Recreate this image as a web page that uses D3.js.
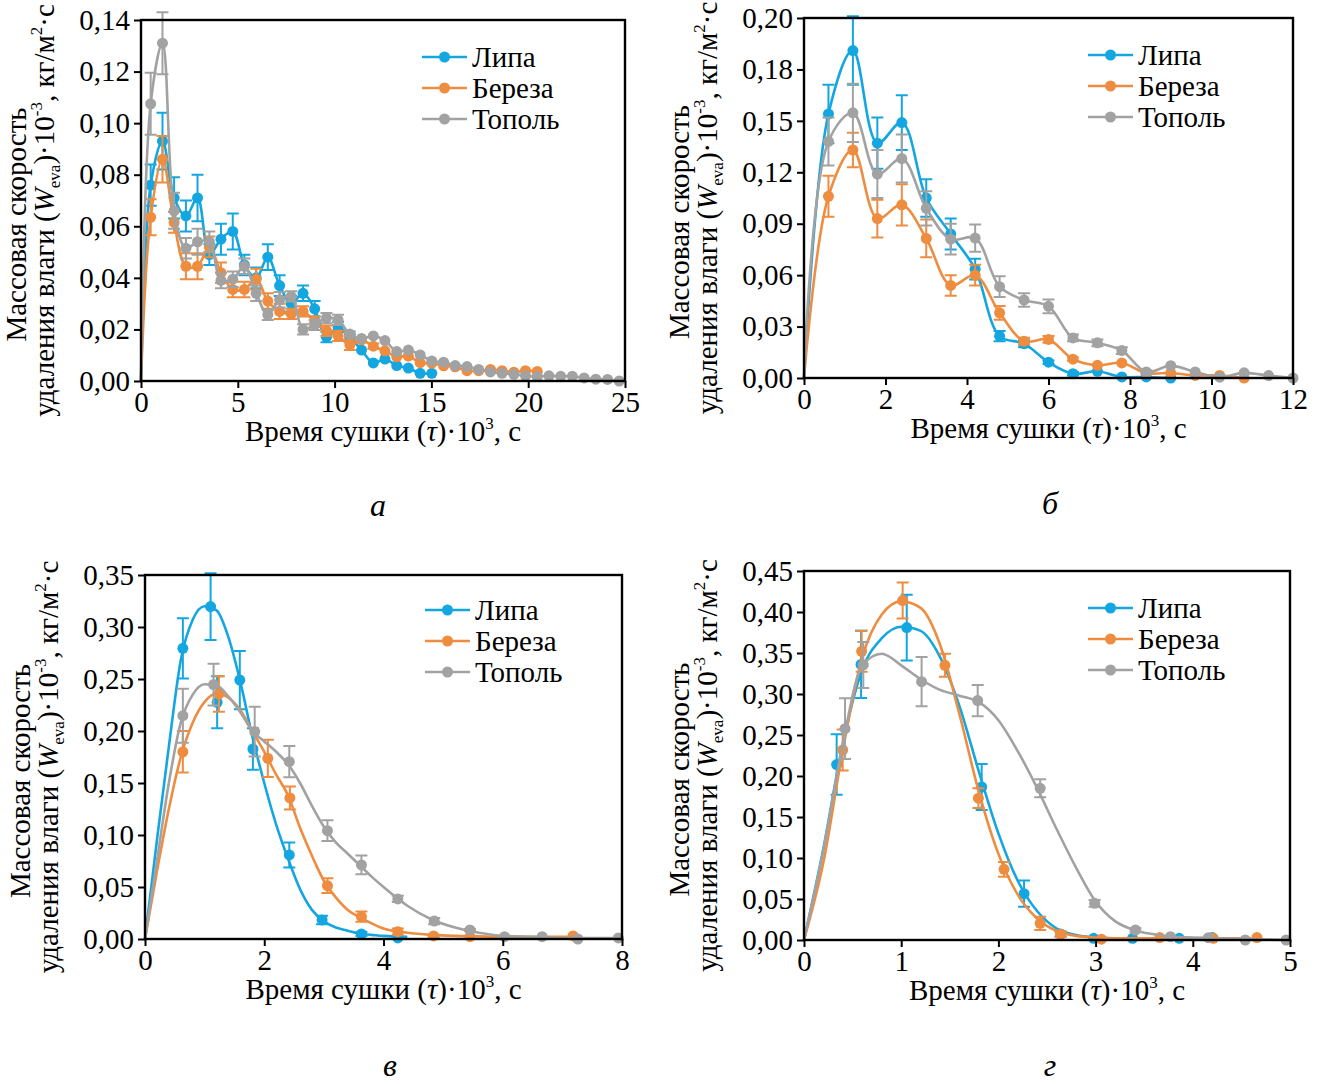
<!DOCTYPE html>
<html><head><meta charset="utf-8">
<script src="https://cdn.jsdelivr.net/npm/d3@7"></script>
<style>
body{margin:0;background:#fff}
svg{display:block}
svg text{font-family:"Liberation Serif","LiberationSerif","Times New Roman",Times,Tinos,"DejaVu Serif","Noto Serif",serif;fill:#000}
</style>
</head><body>
<svg id="chart" width="1322" height="1085"></svg>
<script>
// ---------- common ----------
const seriesNames = ["Липа", "Береза", "Тополь"];
const seriesColors = ["#14a6e0", "#ee8c40", "#a2a2a2"];

// ---------- panel а ----------
const aTime = [0,0.50,1.11,1.71,2.32,2.92,3.53,4.13,4.74,5.34,5.95,6.55,7.16,7.76,8.37,8.97,9.58,10.18,10.79,11.39,12.00,12.60,13.21,13.81,14.42,15.02,15.63,16.23,16.84,17.44,18.05,18.65,19.26,19.86,20.47,21.07,21.68,22.28,22.89,23.49,24.10,24.70];
const aLipa = [0,0.076,0.093,0.071,0.064,0.071,0.049,0.055,0.058,0.045,0.040,0.048,0.037,0.030,0.034,0.028,0.017,0.021,0.017,0.012,0.007,0.0085,0.006,0.005,0.003,0.003];
const aLipaErr = [0,0.008,0.011,0.008,0.006,0.009,0.004,0.006,0.007,0.004,0.004,0.005,0.004,0.003,0.003,0.003,0.002,0.002,0.001,0,0,0,0,0,0,0];
const aBereza = [0,0.0635,0.086,0.0615,0.0445,0.0445,0.052,0.042,0.0355,0.0355,0.0395,0.031,0.027,0.026,0.027,0.023,0.0195,0.0175,0.014,0.016,0.0135,0.0117,0.0094,0.0097,0.0071,0.0069,0.0059,0.0055,0.004,0.004,0.0045,0.004,0.0034,0.004,0.0037];
const aBerezaErr = [0,0.007,0.009,0.004,0.005,0.005,0.004,0.004,0.003,0.003,0.004,0.003,0.003,0.002,0.002,0.002,0.002,0.002,0.002,0.001,0.001,0,0,0,0,0,0,0,0,0,0,0,0,0,0];
const aTopol = [0,0.1075,0.131,0.066,0.0515,0.054,0.054,0.039,0.0395,0.0445,0.034,0.0257,0.0315,0.0328,0.020,0.0218,0.0244,0.0237,0.0182,0.0165,0.0175,0.0157,0.0114,0.012,0.0101,0.0078,0.0073,0.006,0.0056,0.0045,0.0035,0.003,0.0026,0.002,0.0017,0.002,0.0018,0.0018,0.0012,0.0007,0.0006,0.0];
const aTopolErr = [0,0.012,0.012,0.007,0.004,0.005,0.004,0.003,0.003,0.003,0.003,0.002,0.003,0.002,0.002,0.002,0.002,0.002,0.001,0,0,0,0,0,0,0,0,0,0,0,0,0,0,0,0,0,0,0,0,0,0,0];
const aXTicks = [0,5,10,15,20,25];
const aYTicks = [0,0.02,0.04,0.06,0.08,0.10,0.12,0.14];
const aYLabels = ["0,00","0,02","0,04","0,06","0,08","0,10","0,12","0,14"];

// ---------- panel б ----------
const bTime = [0,0.6,1.2,1.8,2.4,3.0,3.6,4.2,4.8,5.4,6.0,6.6,7.2,7.8,8.4,9.0,9.6,10.2,10.8,11.4,12.0];
const bLipa = [0,0.154,0.191,0.137,0.149,0.105,0.084,0.0635,0.0244,0.020,0.0092,0.0025,0.0039,0.0006,0.0006,0.0];
const bLipaErr = [0,0.017,0.02,0.015,0.016,0.011,0.009,0.006,0.003,0.002,0.001,0.001,0,0,0,0];
const bBereza = [0,0.106,0.133,0.093,0.101,0.0814,0.054,0.060,0.038,0.0215,0.0225,0.011,0.0074,0.0088,0.0029,0.0029,0.0015,0.0015,0.0];
const bBerezaErr = [0,0.012,0.01,0.011,0.012,0.011,0.006,0.006,0.004,0.002,0.002,0.001,0,0,0,0,0,0,0];
const bTopol = [0,0.138,0.1547,0.119,0.128,0.099,0.081,0.0816,0.0533,0.0455,0.0418,0.0234,0.0205,0.016,0.0035,0.0072,0.0035,0.0005,0.003,0.0014,0.0];
const bTopolErr = [0,0.014,0.017,0.014,0.014,0.01,0.009,0.008,0.006,0.004,0.004,0.002,0.002,0.002,0.001,0,0,0,0,0,0];
const bXTicks = [0,2,4,6,8,10,12];
const bYTicks = [0,0.03,0.06,0.09,0.12,0.15,0.18,0.21];
const bYLabels = ["0,00","0,03","0,06","0,09","0,12","0,15","0,18","0,20"];

// ---------- panel в ----------
const cLipaT = [0.635,1.10,1.21,1.59,1.81,2.42,2.97,3.63,4.24];
const cLipa = [0.2795,0.3196,0.2276,0.249,0.1827,0.0808,0.0183,0.0048,0.001];
const cLipaErr = [0.029,0.032,0.025,0.028,0.02,0.012,0.004,0.002,0];
const cBerezaT = [0.635,1.24,2.06,2.43,3.06,3.63,4.24,4.84,5.45,7.18];
const cBereza = [0.180,0.2356,0.1737,0.1356,0.0513,0.0215,0.007,0.003,0.0022,0.003];
const cBerezaErr = [0.02,0.017,0.018,0.011,0.007,0.005,0.003,0.001,0,0];
const cTopolT = [0.635,1.15,1.84,2.42,3.06,3.63,4.24,4.85,5.45,6.03,6.66,7.26,7.94];
const cTopol = [0.2147,0.2446,0.1994,0.1705,0.1042,0.0712,0.0385,0.0173,0.0087,0.0022,0.0022,0.0,0.001];
const cTopolErr = [0.026,0.02,0.024,0.015,0.01,0.009,0.003,0.003,0.001,0,0,0,0];
const cFitT = [0,0.2,0.4,0.6,0.8,1.0,1.2,1.4,1.6,1.8,2.0,2.2,2.4,2.6,2.8,3.0,3.2,3.4,3.6,3.8,4.0,4.4,4.8,5.2,5.6,6.0,6.5,7.0,7.2,7.5,8.0];
const cFitLipa = [0,0.095,0.185,0.268,0.307,0.32,0.316,0.29,0.247,0.195,0.15,0.11,0.077,0.048,0.028,0.017,0.011,0.008,0.005,0.004,0.003,0.002,null,null,null,null,null,null,null,null,null];
const cFitBereza = [0,0.065,0.125,0.175,0.208,0.228,0.236,0.232,0.22,0.2,0.18,0.158,0.138,0.107,0.08,0.056,0.04,0.028,0.021,0.015,0.01,0.006,0.004,0.003,0.0025,0.002,0.002,0.002,0.002,null,null];
const cFitTopol = [0,0.075,0.15,0.208,0.235,0.245,0.244,0.233,0.218,0.2,0.19,0.18,0.168,0.15,0.128,0.108,0.093,0.082,0.071,0.06,0.05,0.032,0.019,0.011,0.006,0.003,0.002,0.001,0.001,0.001,0.001];
const cXTicks = [0,2,4,6,8];
const cYTicks = [0,0.05,0.10,0.15,0.20,0.25,0.30,0.35];
const cYLabels = ["0,00","0,05","0,10","0,15","0,20","0,25","0,30","0,35"];

// ---------- panel г ----------
const dLipaT = [0.336,0.587,1.057,1.828,2.264,2.64,2.98,3.38,3.86,4.2];
const dLipa = [0.214,0.336,0.381,0.1866,0.0565,0.0073,0.002,0.002,0.002,0.003];
const dLipaErr = [0.037,0.041,0.04,0.028,0.016,0.003,0,0,0,0];
const dBerezaT = [0.398,0.593,1.015,1.45,1.794,2.058,2.43,2.64,3.06,3.66,4.21,4.66];
const dBereza = [0.2317,0.352,0.414,0.335,0.173,0.0862,0.0203,0.007,0.001,0.003,0.002,0.003];
const dBerezaErr = [0.025,0.025,0.022,0.014,0.012,0.009,0.008,0.003,0,0,0,0];
const dTopolT = [0.422,0.61,1.21,1.787,2.43,2.99,3.41,3.77,4.16,4.54,4.96];
const dTopol = [0.2577,0.3354,0.315,0.292,0.185,0.0447,0.0122,0.004,0.0028,0.0,0.0];
const dTopolErr = [0.037,0.028,0.03,0.019,0.011,0.004,0.002,0,0,0,0];
const dFitT = [0,0.2,0.4,0.6,0.8,1.0,1.2,1.4,1.6,1.8,2.0,2.2,2.4,2.6,2.8,3.0,3.2,3.4,3.6,3.8,4.0,4.2,4.6,5.0];
const dFitLipa = [0,0.112,0.24,0.33,0.368,0.382,0.377,0.345,0.285,0.205,0.13,0.072,0.035,0.014,0.006,0.003,0.002,0.002,0.002,0.002,0.002,0.003,null,null];
const dFitBereza = [0,0.095,0.232,0.345,0.397,0.413,0.405,0.36,0.275,0.18,0.105,0.055,0.026,0.011,0.005,0.003,0.002,0.002,0.002,0.002,0.002,0.002,0.002,null];
const dFitTopol = [0,0.11,0.24,0.335,0.349,0.335,0.318,0.305,0.298,0.29,0.268,0.23,0.185,0.135,0.088,0.047,0.023,0.012,0.007,0.004,0.003,0.002,0.001,0.0];
const dXTicks = [0,1,2,3,4,5];
const dYTicks = [0,0.05,0.10,0.15,0.20,0.25,0.30,0.35,0.40,0.45];
const dYLabels = ["0,00","0,05","0,10","0,15","0,20","0,25","0,30","0,35","0,40","0,45"];

const panelLetters = ["а", "б", "в", "г"];

// ---------- drawing ----------
const svg = d3.select("#chart");
const FONT = 29;
const SMALL = 17;

function drawPanel(P) {
  const g = svg.append("g");
  const x = d3.scaleLinear().domain(P.xDomain).range([P.left, P.right]);
  const y = d3.scaleLinear().domain(P.yDomain).range([P.bottom, P.top]);

  P.series.forEach((s, i) => {
    const col = seriesColors[i];
    const sg = g.append("g");
    let lineData;
    if (s.fitT) {
      lineData = s.fitT.map((t, j) => ({ t, v: s.fitV[j] })).filter(d => d.v !== null);
    } else {
      lineData = s.t.map((t, j) => ({ t, v: s.v[j] })).filter(d => d.v !== undefined);
    }
    const line = d3.line().x(d => x(d.t)).y(d => y(d.v))
      .curve(s.fitT ? d3.curveMonotoneX : d3.curveCatmullRom.alpha(0.5));
    sg.append("path").attr("d", line(lineData))
      .attr("fill", "none").attr("stroke", col).attr("stroke-width", 2.6);
    const pts = s.v.map((v, j) => ({ t: s.t[j], v, e: s.e[j] })).filter(d => d.t > 0);
    const eb = pts.filter(d => d.e > 0);
    sg.selectAll(".eb").data(eb).enter().append("path")
      .attr("d", d => {
        const xx = x(d.t), y1 = y(d.v + d.e), y2 = y(Math.max(0, d.v - d.e));
        return `M${xx},${y1}V${y2}M${xx-6},${y1}H${xx+6}M${xx-6},${y2}H${xx+6}`;
      })
      .attr("fill", "none").attr("stroke", col).attr("stroke-width", 2);
    sg.selectAll(".pt").data(pts).enter().append("circle")
      .attr("cx", d => x(d.t)).attr("cy", d => y(d.v)).attr("r", 5.5)
      .attr("fill", col);
  });

  g.append("rect").attr("x", P.left).attr("y", P.top)
    .attr("width", P.right - P.left).attr("height", P.bottom - P.top)
    .attr("fill", "none").attr("stroke", "#000").attr("stroke-width", 2.4);

  const xAxis = d3.axisBottom(x).tickValues(P.xTicks).tickSize(7).tickPadding(3)
    .tickFormat(d => String(d));
  const gx = g.append("g").attr("transform", `translate(0,${P.bottom})`).call(xAxis);
  const yAxis = d3.axisLeft(y).tickValues(P.yTicks).tickSize(7).tickPadding(4)
    .tickFormat((d, i) => P.yLabels[i]);
  const gy = g.append("g").attr("transform", `translate(${P.left},0)`).call(yAxis);
  [gx, gy].forEach(a => {
    a.attr("font-family", null).attr("font-size", null);
    a.select(".domain").remove();
    a.selectAll(".tick line").attr("stroke", "#000").attr("stroke-width", 2);
    a.selectAll(".tick text").attr("font-size", FONT).attr("fill", "#000");
  });

  const xt = g.append("text").attr("x", (P.left + P.right) / 2).attr("y", P.bottom + 60)
    .attr("text-anchor", "middle").attr("font-size", FONT);
  xt.append("tspan").text("Время сушки (");
  xt.append("tspan").attr("font-style", "italic").text("τ");
  xt.append("tspan").text(")·10");
  xt.append("tspan").attr("font-size", SMALL).attr("dy", -12).text("3");
  xt.append("tspan").attr("dy", 12).text(", с");

  const cy = (P.top + P.bottom) / 2;
  g.append("text").attr("transform", `translate(${P.left - 115},${cy + 24}) rotate(-90)`)
    .attr("text-anchor", "middle").attr("font-size", FONT).text("Массовая скорость");
  const yt = g.append("text").attr("transform", `translate(${P.left - 87},${cy + 10}) rotate(-90)`)
    .attr("text-anchor", "middle").attr("font-size", FONT);
  yt.append("tspan").text("удаления влаги (");
  yt.append("tspan").attr("font-style", "italic").text("W");
  yt.append("tspan").attr("font-size", SMALL).attr("dy", 6).text("eva");
  yt.append("tspan").attr("dy", -6).text(")·10");
  yt.append("tspan").attr("font-size", SMALL).attr("dy", -12).text("-3");
  yt.append("tspan").attr("dy", 12).text(", кг/м");
  yt.append("tspan").attr("font-size", SMALL).attr("dy", -12).text("2");
  yt.append("tspan").attr("dy", 12).text("·с");

  seriesNames.forEach((name, i) => {
    const ly = P.legY + i * 31;
    g.append("line").attr("x1", P.legX).attr("x2", P.legX + 45).attr("y1", ly).attr("y2", ly)
      .attr("stroke", seriesColors[i]).attr("stroke-width", 2.6);
    g.append("circle").attr("cx", P.legX + 22.5).attr("cy", ly).attr("r", 5.5).attr("fill", seriesColors[i]);
    g.append("text").attr("x", P.legX + 50).attr("y", ly).attr("dy", "0.35em")
      .attr("font-size", FONT).text(name);
  });

  g.append("text").attr("x", P.letterX).attr("y", P.letterY).attr("text-anchor", "middle")
    .attr("font-size", 32).attr("font-style", "italic").text(P.letter);
}

drawPanel({
  left: 141, right: 625, top: 20, bottom: 381,
  xDomain: [0, 25], yDomain: [0, 0.14], xTicks: aXTicks, yTicks: aYTicks, yLabels: aYLabels,
  series: [
    { t: aTime, v: aLipa, e: aLipaErr },
    { t: aTime, v: aBereza, e: aBerezaErr },
    { t: aTime, v: aTopol, e: aTopolErr }
  ],
  legX: 422, legY: 57, letter: panelLetters[0], letterX: 378, letterY: 516
});
drawPanel({
  left: 804, right: 1293, top: 18, bottom: 378,
  xDomain: [0, 12], yDomain: [0, 0.21], xTicks: bXTicks, yTicks: bYTicks, yLabels: bYLabels,
  series: [
    { t: bTime, v: bLipa, e: bLipaErr },
    { t: bTime, v: bBereza, e: bBerezaErr },
    { t: bTime, v: bTopol, e: bTopolErr }
  ],
  legX: 1088, legY: 55, letter: panelLetters[1], letterX: 1050, letterY: 514
});
drawPanel({
  left: 145, right: 622, top: 575, bottom: 939,
  xDomain: [0, 8], yDomain: [0, 0.35], xTicks: cXTicks, yTicks: cYTicks, yLabels: cYLabels,
  series: [
    { t: cLipaT, v: cLipa, e: cLipaErr, fitT: cFitT, fitV: cFitLipa },
    { t: cBerezaT, v: cBereza, e: cBerezaErr, fitT: cFitT, fitV: cFitBereza },
    { t: cTopolT, v: cTopol, e: cTopolErr, fitT: cFitT, fitV: cFitTopol }
  ],
  legX: 425, legY: 610, letter: panelLetters[2], letterX: 390, letterY: 1076
});
drawPanel({
  left: 804, right: 1290, top: 571, bottom: 940,
  xDomain: [0, 5], yDomain: [0, 0.45], xTicks: dXTicks, yTicks: dYTicks, yLabels: dYLabels,
  series: [
    { t: dLipaT, v: dLipa, e: dLipaErr, fitT: dFitT, fitV: dFitLipa },
    { t: dBerezaT, v: dBereza, e: dBerezaErr, fitT: dFitT, fitV: dFitBereza },
    { t: dTopolT, v: dTopol, e: dTopolErr, fitT: dFitT, fitV: dFitTopol }
  ],
  legX: 1088, legY: 608, letter: panelLetters[3], letterX: 1050, letterY: 1076
});
</script>
</body></html>
